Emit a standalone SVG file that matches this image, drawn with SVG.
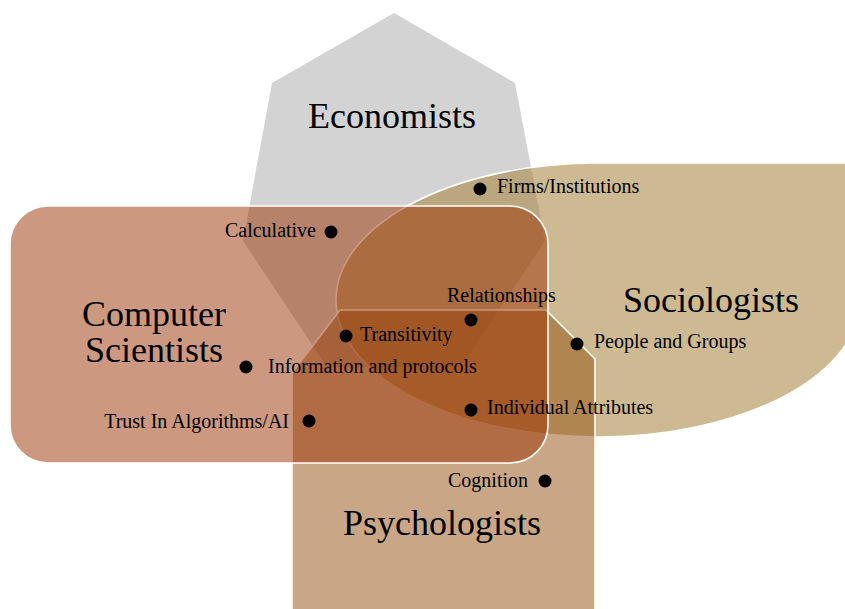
<svg xmlns="http://www.w3.org/2000/svg" width="845" height="609" viewBox="0 0 845 609">
  <style>
    .edge { stroke: #ffffff; stroke-width: 1.6; stroke-linejoin: round; }
    .title { font-family: "Liberation Serif", "Times New Roman", serif; font-size: 36px; fill: #000000; text-anchor: middle; }
    .lbl { font-family: "Liberation Serif", "Times New Roman", serif; font-size: 20px; fill: #000000; }
    .end { text-anchor: end; }
    .dot { fill: #000000; }
  </style>

  <rect x="0" y="0" width="845" height="609" fill="#ffffff"/>

  <!-- Economists: grey heptagon at the back -->
  <g id="economists">
    <polygon points="394,13 515,83 545,241 461,367 327,367 243,241 272,83" fill="#d3d3d3"/>
    <text class="title" x="392" y="128">Economists</text>
  </g>

  <!-- Sociologists: ellipse with a square upper-right corner -->
  <g id="sociologists">
    <path class="edge" d="M 591,163 H 860 V 300 A 262 137 0 1 1 591,163 Z" fill="#a78640" fill-opacity="0.57"/>
    <text class="title" x="711" y="312">Sociologists</text>
  </g>

  <!-- Psychologists: chamfered block running off the bottom -->
  <g id="psychologists">
    <polygon class="edge" points="292,373 340,310 546,310 595,359 595,615 292,615" fill="#934f0d" fill-opacity="0.5"/>
    <text class="title" x="442" y="535">Psychologists</text>
  </g>

  <!-- Computer Scientists: rounded rectangle on top -->
  <g id="computer-scientists">
    <rect class="edge" x="10" y="206" width="538" height="257" rx="38" ry="38" fill="#9b3101" fill-opacity="0.5"/>
    <text class="title" x="154" y="326">Computer</text>
    <text class="title" x="154" y="362">Scientists</text>
  </g>

  <!-- Topic markers -->
  <g id="topics">
    <g id="topic-calculative">
      <circle class="dot" cx="331" cy="232" r="6.5"/>
      <text class="lbl end" x="316" y="237">Calculative</text>
    </g>
    <g id="topic-firms">
      <circle class="dot" cx="480" cy="189" r="6.5"/>
      <text class="lbl" x="497" y="193">Firms/Institutions</text>
    </g>
    <g id="topic-relationships">
      <circle class="dot" cx="471" cy="320" r="6.5"/>
      <text class="lbl" x="447" y="302">Relationships</text>
    </g>
    <g id="topic-transitivity">
      <circle class="dot" cx="346" cy="336" r="6.5"/>
      <text class="lbl" x="360" y="341">Transitivity</text>
    </g>
    <g id="topic-information">
      <circle class="dot" cx="246" cy="367" r="6.5"/>
      <text class="lbl" x="268" y="373">Information and protocols</text>
    </g>
    <g id="topic-people">
      <circle class="dot" cx="577" cy="344" r="6.5"/>
      <text class="lbl" x="594" y="348">People and Groups</text>
    </g>
    <g id="topic-trust">
      <circle class="dot" cx="309" cy="421" r="6.5"/>
      <text class="lbl end" x="289" y="428">Trust In Algorithms/AI</text>
    </g>
    <g id="topic-attributes">
      <circle class="dot" cx="471" cy="410" r="6.5"/>
      <text class="lbl" x="487" y="414">Individual Attributes</text>
    </g>
    <g id="topic-cognition">
      <circle class="dot" cx="545" cy="481" r="6.5"/>
      <text class="lbl end" x="528" y="487">Cognition</text>
    </g>
  </g>
</svg>
